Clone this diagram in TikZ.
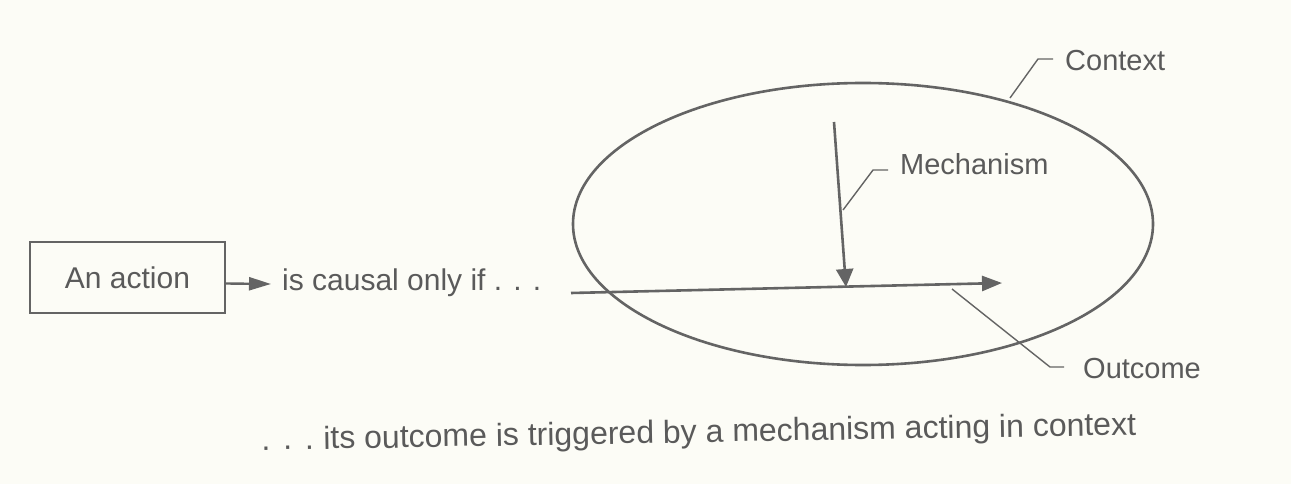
\documentclass[tikz,border=0pt]{standalone}
\usepackage{fontspec}
\setmainfont{Liberation Sans}
\usetikzlibrary{arrows.meta,shapes.geometric}
\definecolor{bg}{RGB}{252,252,246}
\definecolor{ink}{RGB}{100,100,100}
\definecolor{txt}{RGB}{90,90,90}
\begin{document}
\begin{tikzpicture}[x=1pt,y=-1pt,
  lbl/.style={text=txt,inner sep=0pt,font=\fontsize{29}{34}\selectfont},
  bigline/.style={draw=ink,line width=2.6pt},
  leader/.style={draw=ink,line width=1.4pt},
  tipped/.style={bigline,-{Triangle[length=20pt,width=15pt]}},
  boxstyle/.style={draw=ink,line width=2.2pt,text=txt,inner sep=0pt,
    minimum width=195pt,minimum height=71pt,font=\fontsize{30}{36}\selectfont}
]
\fill[bg] (0,0) rectangle (1291,484);
\useasboundingbox (0,0) rectangle (1291,484);

% context ellipse
\node[ellipse,draw=ink,line width=2.6pt,minimum width=580pt,minimum height=282pt,inner sep=0pt] (ctx) at (863,224) {};

% action box and first arrow
\node[boxstyle] (action) at (127.5,277.5) {An action};
\coordinate (atip) at (271,284);
\draw[draw=ink,line width=2.4pt,-{Triangle[length=22pt,width=13pt]}] ([yshift=-6pt]action.east) -- (atip);
\node[lbl,anchor=base west,font=\fontsize{30}{36}\selectfont] (causal) at (282,290) {is causal only if . . .};

% outcome arrow and mechanism arrow
\coordinate (hs) at (571,293);
\coordinate (he) at (1002,283);
\coordinate (vs) at (834,122);
\coordinate (ve) at (846,287);
\draw[tipped] (hs) -- (he);
\draw[bigline,-{Triangle[length=18pt,width=17pt]}] (vs) -- (ve);

% labels
\node[lbl,anchor=base west] (mech) at (900,175) {Mechanism};
\node[lbl,anchor=base west] (cont) at (1065,71) {Context};
\node[lbl,anchor=base west] (outc) at (1083,378) {Outcome};

% leader lines
\coordinate (m0) at (843,210);
\coordinate (m1) at (873,170);
\coordinate (m2) at (888,170);
\draw[leader] (m0) -- (m1) -- (m2);
\coordinate (c0) at (1010,98);
\coordinate (c1) at (1038,59);
\coordinate (c2) at (1053,59);
\draw[leader] (c0) -- (c1) -- (c2);
\coordinate (o0) at (952,289);
\coordinate (o1) at (1050,367);
\coordinate (o2) at (1064,367);
\draw[leader] (o0) -- (o1) -- (o2);

% bottom caption
\node[text=txt,inner sep=0pt,font=\fontsize{32}{38}\selectfont,anchor=base,rotate=1] (cap) at (699,442.5) {.\hspace{0.4em}.\hspace{0.4em}.\hspace{0.3em}its outcome is triggered by a mechanism acting in context};
\end{tikzpicture}
\end{document}
